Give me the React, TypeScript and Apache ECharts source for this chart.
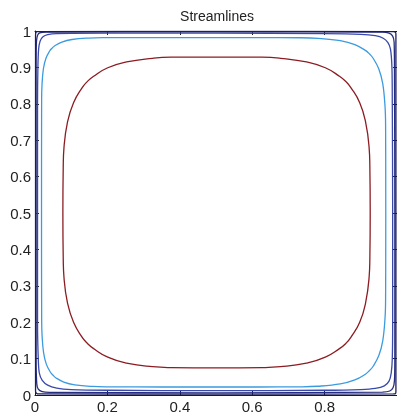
import React, { useEffect, useRef } from "react";
import * as echarts from "echarts";

const titleText = "Streamlines";
const xTicks = [0, 0.2, 0.4, 0.6, 0.8, 1];
const yTicks = [0, 0.1, 0.2, 0.3, 0.4, 0.5, 0.6, 0.7, 0.8, 0.9, 1];

const redContour: [number, number][] = [
  [0.926, 0.5015], [0.925, 0.628], [0.923, 0.679], [0.913, 0.751], [0.897, 0.803], [0.873, 0.844],
  [0.859, 0.861], [0.842, 0.875], [0.802, 0.899], [0.75, 0.915], [0.678, 0.925], [0.627, 0.928],
  [0.5015, 0.9285], [0.376, 0.928], [0.325, 0.925], [0.253, 0.915], [0.201, 0.899], [0.161, 0.875],
  [0.1445, 0.861], [0.13, 0.844], [0.1065, 0.803], [0.09, 0.751], [0.08, 0.679], [0.078, 0.628],
  [0.077, 0.5015], [0.078, 0.375], [0.08, 0.324], [0.09, 0.252], [0.1065, 0.2], [0.13, 0.159],
  [0.1445, 0.142], [0.161, 0.128], [0.201, 0.104], [0.253, 0.0876], [0.325, 0.0777], [0.376, 0.0753],
  [0.5015, 0.0745], [0.627, 0.0753], [0.678, 0.0777], [0.75, 0.0876], [0.802, 0.104], [0.842, 0.128],
  [0.859, 0.142], [0.873, 0.159], [0.897, 0.2], [0.913, 0.252], [0.923, 0.324], [0.925, 0.375],
  [0.926, 0.5015],
];

const lightBlueContour: [number, number][] = [
  [0.969, 0.502], [0.9685, 0.741], [0.9669, 0.7931], [0.9606, 0.8552], [0.9498, 0.8957], [0.9341, 0.9251],
  [0.9242, 0.9367], [0.9127, 0.9468], [0.8836, 0.9627], [0.8434, 0.9736], [0.7819, 0.9799], [0.7303, 0.9815],
  [0.62, 0.9819], [0.4935, 0.982], [0.35, 0.9819], [0.1883, 0.9817], [0.1477, 0.9807], [0.1023, 0.9766],
  [0.0743, 0.9696], [0.0547, 0.9593], [0.047, 0.9527], [0.0405, 0.945], [0.0303, 0.9252], [0.0233, 0.8969],
  [0.0193, 0.8511], [0.0183, 0.8101], [0.018, 0.502], [0.0184, 0.2071], [0.0195, 0.1637], [0.0239, 0.1148],
  [0.0315, 0.0841], [0.0427, 0.0625], [0.0499, 0.0542], [0.0581, 0.0469], [0.0795, 0.0356], [0.11, 0.028],
  [0.1584, 0.0235], [0.2014, 0.0224], [0.35, 0.022], [0.4935, 0.022], [0.62, 0.022], [0.7303, 0.0225],
  [0.7819, 0.0241], [0.8434, 0.0304], [0.8836, 0.0413], [0.9127, 0.0572], [0.9242, 0.0673], [0.9341, 0.0789],
  [0.9498, 0.1083], [0.9606, 0.1488], [0.9669, 0.2109], [0.9685, 0.263], [0.969, 0.502],
];

const blueContour: [number, number][] = [
  [0.007, 0.5], [0.007, 0.8], [0.008, 0.9], [0.01, 0.95], [0.014, 0.972], [0.022, 0.984],
  [0.035, 0.99], [0.06, 0.993], [0.2, 0.994], [0.5, 0.994], [0.8, 0.993], [0.9, 0.991],
  [0.94, 0.987], [0.962, 0.98], [0.975, 0.968], [0.982, 0.95], [0.986, 0.9], [0.987, 0.8],
  [0.988, 0.5], [0.988, 0.2], [0.987, 0.1], [0.984, 0.06], [0.978, 0.038], [0.965, 0.025],
  [0.94, 0.018], [0.9, 0.015], [0.8, 0.013], [0.5, 0.012], [0.2, 0.013], [0.1, 0.015],
  [0.06, 0.019], [0.035, 0.027], [0.02, 0.04], [0.012, 0.06], [0.009, 0.1], [0.007, 0.2],
  [0.007, 0.5],
];

const navyContour: [number, number][] = [
  [0.003, 0.5], [0.003, 0.9], [0.004, 0.97], [0.007, 0.988], [0.013, 0.995], [0.03, 0.997],
  [0.5, 0.998], [0.96, 0.997], [0.978, 0.994], [0.988, 0.986], [0.992, 0.97], [0.993, 0.9],
  [0.994, 0.5], [0.994, 0.1], [0.993, 0.04], [0.989, 0.02], [0.98, 0.011], [0.96, 0.008],
  [0.5, 0.006], [0.04, 0.007], [0.02, 0.009], [0.009, 0.016], [0.005, 0.03], [0.003, 0.1],
  [0.003, 0.5],
];

const edgeContour: [number, number][] = [
  [0.0015, 0.5], [0.0015, 0.99], [0.004, 0.9975], [0.01, 0.9985], [0.5, 0.999], [0.99, 0.9985],
  [0.996, 0.996], [0.997, 0.99], [0.997, 0.01], [0.996, 0.004], [0.99, 0.003], [0.5, 0.0025],
  [0.01, 0.003], [0.004, 0.005], [0.0015, 0.01], [0.0015, 0.5],
];

const contours = [
  { name: "c1", data: redContour, color: "#8b1c22", smooth: 0.5 },
  { name: "c2", data: lightBlueContour, color: "#3b9be0", smooth: 0.4 },
  { name: "c3", data: blueContour, color: "#3848ab", smooth: 0.3 },
  { name: "c4", data: navyContour, color: "#262c7e", smooth: 0.3 },
  { name: "c5", data: edgeContour, color: "#1b1d5c", smooth: 0.2 },
];

export default function App() {
  const ref = useRef<HTMLDivElement>(null);
  useEffect(() => {
    if (!ref.current) return;
    const chart = echarts.init(ref.current, undefined, { renderer: "svg" });
    const font = "'Liberation Sans', Arial, Helvetica, sans-serif";
    const axisCommon = {
      type: "value" as const,
      min: 0,
      max: 1,
      splitLine: { show: false },
      axisLine: { show: true, onZero: false, lineStyle: { color: "#1a1a1a", width: 1 } },
      axisTick: { show: true, inside: true, length: 4, lineStyle: { color: "#1a1a1a" } },
    };
    chart.setOption({
      animation: false,
      title: {
        text: titleText,
        left: 217,
        top: 9,
        textAlign: "center",
        padding: 0,
        textStyle: { fontFamily: font, fontSize: 14, fontWeight: "normal", color: "#222" },
      },
      grid: { left: 35, top: 31, width: 364, height: 365, show: false },
      xAxis: [
        {
          ...axisCommon,
          position: "bottom",
          interval: xTicks[1] - xTicks[0],
          axisLabel: {
            fontFamily: font,
            fontSize: 15,
            color: "#222",
            margin: 4,
            showMaxLabel: false,
          },
        },
        {
          ...axisCommon,
          position: "top",
          interval: xTicks[1] - xTicks[0],
          axisLabel: { show: false },
        },
      ],
      yAxis: [
        {
          ...axisCommon,
          position: "left",
          interval: yTicks[1] - yTicks[0],
          axisLabel: { fontFamily: font, fontSize: 15, color: "#222", margin: 4 },
        },
        {
          ...axisCommon,
          position: "right",
          interval: yTicks[1] - yTicks[0],
          axisLabel: { show: false },
        },
      ],
      series: contours.map((c) => ({
        name: c.name,
        type: "line",
        xAxisIndex: 0,
        yAxisIndex: 0,
        data: c.data,
        showSymbol: false,
        smooth: c.smooth,
        clip: true,
        lineStyle: { color: c.color, width: 1.3 },
        itemStyle: { color: c.color },
      })),
    });
    return () => chart.dispose();
  }, []);
  return (
    <div
      ref={ref}
      style={{ position: "fixed", left: 0, top: 0, width: 397, height: 414 }}
    />
  );
}
